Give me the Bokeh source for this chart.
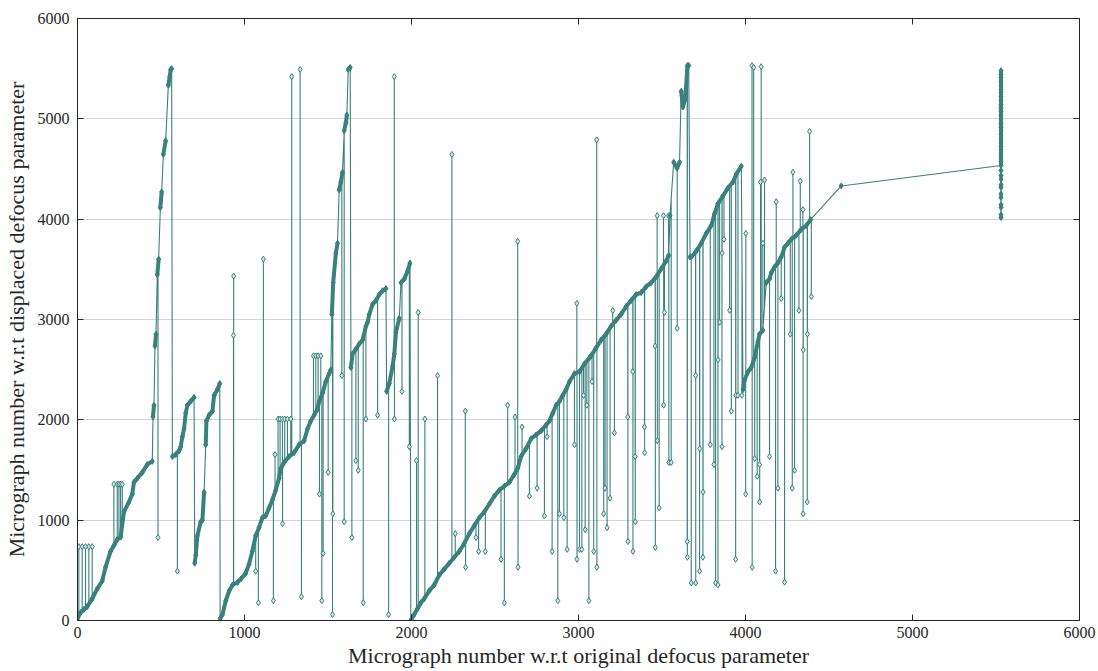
import numpy as np
from bokeh.plotting import figure
from bokeh.models import LinearAxis, FixedTicker, Range1d
from bokeh.embed import file_html
from bokeh.resources import INLINE

# ---------------- data ----------------
TICKS = [0, 1000, 2000, 3000, 4000, 5000, 6000]
X_LABEL = "Micrograph number w.r.t original defocus parameter"
Y_LABEL = "Micrograph number w.r.t displaced defocus parameter"

# main trend (ordered by original micrograph number)
BASE_X = [0, 18, 38, 58, 88, 118, 148, 168, 198, 218, 238, 258, 278, 308, 328, 338, 358, 388, 418, 448,
          452, 458, 464, 470, 478, 486, 496, 504, 514, 528, 544, 552, 558, 564,
          568, 588, 608, 618, 628, 638, 648, 658, 678, 698,
          702, 708, 718, 738, 748, 758, 768, 772, 788, 808, 818, 838, 852,
          854, 868, 888, 908, 928, 958, 978, 1007, 1027, 1047, 1067, 1087, 1107, 1127, 1147, 1167, 1187,
          1207, 1217, 1237, 1267, 1297, 1327, 1357, 1377, 1397, 1417, 1437, 1447, 1467, 1487, 1507, 1517,
          1523, 1531, 1547, 1557, 1567, 1577, 1587, 1597, 1607, 1613, 1621, 1633,
          1637, 1647, 1667, 1687, 1707, 1727, 1737, 1747, 1767, 1787, 1807, 1827, 1847,
          1851, 1867, 1887, 1897, 1907, 1927, 1937, 1957, 1977, 1991,
          1996, 2016, 2036, 2056, 2076, 2106, 2136, 2166, 2196, 2226, 2256, 2286, 2316, 2346, 2376, 2406,
          2436, 2466, 2496, 2526, 2556, 2586, 2616, 2636, 2656, 2686, 2716, 2746, 2776, 2806, 2826, 2846,
          2866, 2886, 2906, 2926, 2946, 2976, 3006, 3036, 3066, 3075, 3105, 3135, 3165, 3195, 3225, 3255,
          3285, 3315, 3345, 3375, 3405, 3435, 3465, 3495, 3525,
          3540, 3548, 3570, 3590, 3605, 3615, 3625, 3640, 3652, 3660,
          3668, 3675, 3705, 3735, 3765, 3795, 3815, 3835, 3865, 3895, 3925, 3945, 3975,
          3985, 3995, 4015, 4034, 4054, 4074, 4084, 4104, 4124, 4144, 4154, 4174, 4194, 4214, 4234, 4254,
          4274, 4304, 4334, 4364, 4390, 4573]
BASE_Y = [20, 79, 110, 138, 217, 315, 394, 531, 689, 748, 807, 830, 1083, 1181, 1260, 1378, 1417, 1476, 1555, 1587,
          2030, 2146, 2736, 2854, 3445, 3602, 4114, 4272, 4645, 4783, 5335, 5420, 5492, 5500,
          1634, 1654, 1690, 1732, 1831, 1909, 2067, 2146, 2185, 2224,
          571, 650, 846, 984, 1000, 1280, 1752, 1988, 2047, 2087, 2244, 2303, 2362,
          20, 59, 197, 295, 354, 380, 413, 470, 560, 690, 846, 925, 1024, 1043, 1122, 1201, 1299,
          1417, 1516, 1575, 1634, 1673, 1752, 1791, 1909, 1988, 2047, 2106, 2185, 2264, 2382, 2461, 2500,
          3050, 3366, 3661, 3760, 4291, 4370, 4468, 4882, 4961, 5039, 5492, 5512,
          2520, 2657, 2705, 2756, 2795, 2933, 2972, 3051, 3150, 3189, 3248, 3287, 3307,
          2283, 2362, 2539, 2657, 2874, 3012, 3366, 3405, 3484, 3563,
          0, 59, 118, 177, 217, 295, 354, 453, 512, 571, 630, 689, 768, 866, 945, 1024,
          1083, 1161, 1240, 1299, 1339, 1378, 1457, 1516, 1634, 1713, 1811, 1850, 1890, 1949, 1988, 2067,
          2146, 2185, 2244, 2303, 2382, 2461, 2480, 2559, 2618, 2638, 2717, 2795, 2854, 2933, 2992, 3051,
          3130, 3189, 3248, 3268, 3327, 3366, 3425, 3504, 3583,
          3640, 4035, 4567, 4508, 4567, 5275, 5118, 5200, 5531, 5531,
          3622, 3622, 3681, 3760, 3858, 3937, 4055, 4154, 4232, 4311, 4370, 4449, 4528,
          2300, 2400, 2480, 2520, 2618, 2776, 2854, 2894, 3366, 3405, 3465, 3524, 3563, 3622, 3720, 3760,
          3799, 3839, 3898, 3937, 3996, 4331]

# isolated outliers (spikes away from the trend)
SPIKE_X = [8, 28, 48, 68, 88, 218, 238, 248, 258, 268, 482, 598, 934, 935,
           1067, 1083, 1113, 1173, 1183, 1201, 1213, 1227, 1228, 1241, 1257, 1277, 1283, 1333, 1341,
           1413, 1427, 1441, 1449, 1457, 1463, 1471, 1501, 1527, 1529, 1583, 1597, 1643, 1667, 1681,
           1711, 1727, 1797, 1863, 1897, 1898, 1943, 1987,
           2030, 2040, 2080, 2156, 2242, 2262, 2322, 2324, 2386, 2402, 2442, 2536, 2556, 2576, 2620,
           2636, 2638, 2662, 2706, 2752, 2796, 2812, 2842, 2876, 2886, 2912, 2932, 2976, 2990, 2991,
           3006, 3020, 3030, 3040, 3050, 3062,
           3081, 3091, 3109, 3110, 3151, 3159, 3171, 3189, 3205, 3215, 3295, 3296, 3325, 3326, 3339,
           3340, 3395, 3396, 3459, 3460, 3471, 3472, 3483, 3509, 3510, 3515, 3539, 3541, 3555, 3591,
           3651, 3652, 3675, 3701, 3702, 3725, 3726, 3745, 3746, 3789, 3811, 3821, 3835, 3836, 3845,
           3859, 3860, 3871, 3905, 3915, 3941, 3942, 3955, 3979, 4001, 4002,
           4039, 4040, 4049, 4055, 4070, 4084, 4085, 4090, 4094, 4104, 4114, 4144, 4180, 4184, 4194,
           4214, 4234, 4268, 4280, 4284, 4294, 4320, 4328, 4344, 4345, 4346, 4370, 4371, 4384, 4394]
SPIKE_Y = [736, 736, 736, 736, 736, 1358, 1358, 1358, 1358, 1358, 827, 492, 2842, 3433,
           492, 177, 3602, 197, 1654, 2008, 2008, 2008, 965, 2008, 2008, 2008, 5421, 5492, 236,
           2638, 2638, 2638, 1260, 2638, 197, 669, 1476, 59, 1063, 2441, 984, 827, 1594, 1496,
           177, 2008, 2047, 59, 5421, 2008, 2283, 1732,
           1594, 3071, 2008, 2441, 4645, 866, 2087, 531, 827, 689, 689, 610, 177, 2146, 2028,
           3779, 531, 1929, 1240, 1319, 1043, 1831, 689, 197, 1063, 1024, 709, 1752, 3161, 610,
           709, 709, 2244, 906, 2146, 197,
           2382, 689, 4791, 531, 1063, 1319, 925, 1220, 3090, 1870, 2028, 787, 2480, 689, 1634,
           984, 1929, 1673, 2736, 728, 4035, 1791, 1122, 4035, 2146, 3071, 4035, 1575, 1575, 2913,
           787, 630, 374, 2441, 374, 492, 1713, 630, 1280, 1752, 1555, 374, 354, 2598, 2972,
           1732, 3661, 3799, 3090, 2087, 610, 2244, 2244, 2244, 1260, 3858,
           5531, 531, 5512, 1614, 1437, 1555, 1181, 4370, 5520, 3760, 4390, 1634, 492, 4173, 1319,
           3209, 382, 2854, 1319, 4468, 1496, 3090, 4378, 4095, 1063, 2697, 1181, 2854, 4874, 3228]

# the group of micrographs all placed at the far right
CLUSTER_X = 5530
CLUSTER_Y = [4535, 4485, 4435, 4400, 4343, 4316, 4250, 4216, 4143, 4117, 4044, 4017,
             4575, 4610, 4650, 4690, 4725, 4765, 4800, 4840, 4880, 4915, 4955, 4990, 5030,
             5070, 5105, 5145, 5180, 5220, 5260, 5295, 5335, 5370, 5410, 5445, 5480]

# ---------------- build the connecting path ----------------
TEAL = "#3a807b"
bx = np.array(BASE_X, dtype=float)
by = np.array(BASE_Y, dtype=float)
sx = np.array(SPIKE_X, dtype=float)
sy = np.array(SPIKE_Y, dtype=float)
anchor = np.interp(sx, bx, by)   # where each vertical spike leaves the trend line

items = []
for i in range(len(bx)):
    items.append((bx[i], 0, i, [(bx[i], by[i])]))
for j in range(len(sx)):
    items.append((sx[j], 1, j, [(sx[j], anchor[j]), (sx[j], sy[j]), (sx[j], anchor[j])]))
items.sort(key=lambda t: (t[0], t[1], t[2]))
path = [pt for it in items for pt in it[3]]
path += [(CLUSTER_X, v) for v in CLUSTER_Y]
path_x = [pt[0] for pt in path]
path_y = [pt[1] for pt in path]

# thick runs where the trend is densely sampled
cl_x = [CLUSTER_X] * len(CLUSTER_Y)
tx = list(BASE_X) + [CLUSTER_X] + cl_x[12:]
ty = list(BASE_Y) + CLUSTER_Y[:1] + CLUSTER_Y[12:]
runs_x, runs_y = [], []
cur_x, cur_y = [tx[0]], [ty[0]]
for i in range(1, len(tx)):
    if abs(ty[i] - ty[i - 1]) <= 350 and abs(tx[i] - tx[i - 1]) <= 45:
        cur_x.append(tx[i]); cur_y.append(ty[i])
    else:
        if len(cur_x) > 1:
            runs_x.append(cur_x); runs_y.append(cur_y)
        cur_x, cur_y = [tx[i]], [ty[i]]
if len(cur_x) > 1:
    runs_x.append(cur_x); runs_y.append(cur_y)

# ---------------- figure ----------------
FONT = "Liberation Serif"
p = figure(width=1098, height=671, output_backend="svg", toolbar_location=None,
           x_range=Range1d(0, 6000), y_range=Range1d(0, 6000),
           min_border_left=77, min_border_right=19, min_border_top=18, min_border_bottom=51)
p.background_fill_color = "white"
p.border_fill_color = "white"
p.outline_line_color = "#262626"
p.outline_line_width = 1

p.line(path_x, path_y, line_width=1.1, color=TEAL)
p.multi_line(runs_x, runs_y, line_width=4, color=TEAL)
p.scatter(SPIKE_X, SPIKE_Y, marker="diamond", size=6, line_color=TEAL, fill_color="#d2e6e4", line_width=1)
p.scatter(BASE_X, BASE_Y, marker="diamond", size=6, line_color=TEAL, fill_color=TEAL, line_width=1)
p.scatter(cl_x, CLUSTER_Y, marker="diamond", size=6, line_color=TEAL, fill_color=TEAL, line_width=1)

ticker = FixedTicker(ticks=TICKS)
for ax in (p.xaxis[0], p.yaxis[0]):
    ax.ticker = ticker
    ax.major_tick_in = 6
    ax.major_tick_out = 0
    ax.minor_tick_line_color = None
    ax.axis_line_color = "#262626"
    ax.major_tick_line_color = "#262626"
    ax.major_label_text_font = FONT
    ax.major_label_text_font_size = "16px"
    ax.major_label_text_color = "#262626"
    ax.axis_label_text_font = FONT
    ax.axis_label_text_font_size = "22px"
    ax.axis_label_text_font_style = "normal"
    ax.axis_label_text_color = "#262626"
p.xaxis[0].axis_label = X_LABEL
p.yaxis[0].axis_label = Y_LABEL
p.xaxis[0].major_label_standoff = 6
p.yaxis[0].major_label_standoff = 8
p.xaxis[0].axis_label_standoff = 2
p.yaxis[0].axis_label_standoff = 6

for loc in ("above", "right"):
    ax = LinearAxis(ticker=ticker, major_tick_in=6, major_tick_out=0,
                    minor_tick_line_color=None, axis_line_color="#262626",
                    major_tick_line_color="#262626", major_label_text_font_size="0px",
                    major_label_standoff=0)
    p.add_layout(ax, loc)

p.xgrid.visible = False
p.ygrid.ticker = ticker
p.ygrid.grid_line_color = "#d4d4d4"
p.ygrid.grid_line_width = 1

open("out.html", "w").write(file_html(p, INLINE))
